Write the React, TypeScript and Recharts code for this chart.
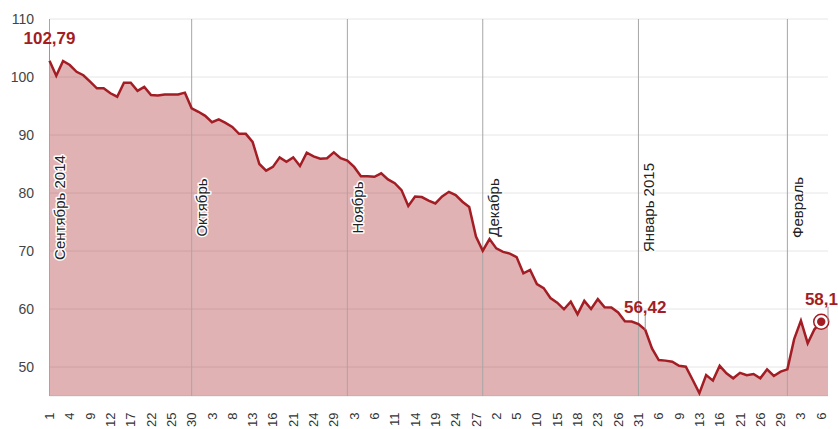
import React from 'react';
import {
  ComposedChart, Area, Line, XAxis, YAxis, CartesianGrid, ReferenceLine, ReferenceDot,
} from 'recharts';

// trading days, Sep 2014 - Feb 2015
const days = [
  '1', '2', '3', '4', '5', '8', '9', '10', '11', '12', '15', '16', '17', '18', '19', '22', '23', '24', '25', '26', '29', '30',
  '1', '2', '3', '6', '7', '8', '9', '10', '13', '14', '15', '16', '17', '20', '21', '22', '23', '24', '27', '28', '29', '30', '31',
  '3', '4', '5', '6', '7', '10', '11', '12', '13', '14', '17', '18', '19', '20', '21', '24', '25', '26', '27', '28',
  '1', '2', '3', '4', '5', '8', '9', '10', '11', '12', '15', '16', '17', '18', '19', '22', '23', '24', '25', '26', '29', '30', '31',
  '2', '5', '6', '7', '8', '9', '10', '12', '13', '14', '15', '16', '19', '20', '21', '22', '23', '26', '27', '28', '29', '30',
  '2', '3', '4', '5', '6',
];

const prices = [
  102.79, 100.2, 102.76, 102.07, 100.9, 100.3, 99.2, 98.05, 98.05, 97.2, 96.6, 99.0, 99.0, 97.6, 98.3, 96.9, 96.8, 97.0, 97.0, 97.0, 97.3, 94.6,
  94.0, 93.3, 92.2, 92.7, 92.1, 91.4, 90.2, 90.2, 88.8, 85.0, 83.85, 84.5, 86.15, 85.4, 86.15, 84.65, 86.95, 86.3, 85.9, 86.0, 87.0, 86.0, 85.6,
  84.5, 82.9, 82.9, 82.8, 83.4, 82.35, 81.7, 80.5, 77.75, 79.4, 79.3, 78.7, 78.2, 79.4, 80.2, 79.65, 78.5, 77.6, 72.5, 70.05,
  72.05, 70.45, 69.85, 69.55, 68.95, 66.15, 66.75, 64.3, 63.6, 61.9, 61.1, 59.95, 61.25, 59.1, 61.4, 60.0, 61.7, 60.3, 60.25, 59.4, 57.9, 57.85, 57.4,
  56.42, 53.2, 51.2, 51.1, 50.9, 50.2, 50.05, 47.8, 45.5, 48.6, 47.65, 50.2, 48.9, 48.05, 49.0, 48.6, 48.8, 48.05, 49.6, 48.45, 49.2, 49.6,
  54.8, 58.0, 54.1, 56.5, 57.8,
];

const yTicks = [50, 60, 70, 80, 90, 100, 110];

// month separators: index of the last trading day of the previous month
const monthLines = [
  { at: 0, name: 'Сентябрь 2014' },
  { at: 21, name: 'Октябрь' },
  { at: 44, name: 'Ноябрь' },
  { at: 64, name: 'Декабрь' },
  { at: 87, name: 'Январь 2015' },
  { at: 109, name: 'Февраль' },
];

const callouts = [
  { at: 0, text: '102,79' },
  { at: 88, text: '56,42' },
  { at: 115, text: '58,1' },
];

const RED = '#a31d24';
const FONT = '"Liberation Sans", Arial, sans-serif';

const lastIdx = prices.length - 1;
const data = prices.map((p, i) => ({ i, day: days[i], price: p, area: p }));
data.push({ i: prices.length, day: '', price: null, area: prices[lastIdx] });

const xTicks = prices.map((_, i) => i).filter((i) => i % 3 === 0);

const XTick = (props: any) => {
  const { x, y, payload } = props;
  return (
    <text
      transform={`translate(${x},${y}) rotate(-90)`}
      textAnchor="end"
      dy="0.35em"
      fontSize={13}
      fontFamily={FONT}
      fill="#333"
    >
      {days[payload.value]}
    </text>
  );
};

const monthLabel = (name: string) => (props: any) => {
  const vb = props.viewBox || {};
  const cx = vb.x + 10.5;
  const cy = vb.y + vb.height / 2;
  return (
    <text
      transform={`translate(${cx},${cy}) rotate(-90)`}
      textAnchor="middle"
      dy="0.35em"
      fontSize={15}
      fontFamily={FONT}
      fill="#222"
      stroke="#fff"
      strokeWidth={3}
      strokeLinejoin="round"
      paintOrder="stroke"
    >
      {name}
    </text>
  );
};

const calloutShape = (text: string, isLast: boolean) => (props: any) => {
  const { cx, cy } = props;
  return (
    <g>
      <line x1={cx} x2={cx} y1={cy - 15} y2={cy} stroke="#999" strokeWidth={1} />
      <text
        x={isLast ? cx + 10 : cx}
        y={cy - 17}
        textAnchor={isLast ? 'end' : 'middle'}
        fontSize={17}
        fontWeight="bold"
        fontFamily={FONT}
        fill={RED}
      >
        {text}
      </text>
    </g>
  );
};

const EndDot = (props: any) => {
  const { cx, cy, index } = props;
  if (index !== lastIdx || cx == null || cy == null) return <g key={`d-${index}`} />;
  return (
    <g key={`d-${index}`}>
      <circle cx={cx} cy={cy} r={7.5} fill="#fff" stroke={RED} strokeWidth={1.5} />
      <circle cx={cx} cy={cy} r={4.2} fill={RED} />
    </g>
  );
};

export default function App() {
  return (
    <div style={{ position: 'absolute', left: 0, top: 0, width: 838, height: 429, background: '#fff' }}>
      <ComposedChart width={838} height={429} data={data} margin={{ top: 19, right: 10, bottom: 0, left: 0 }}>
        <CartesianGrid vertical={false} stroke="#e6e6e6" />
        <XAxis
          type="number"
          dataKey="i"
          domain={[0, prices.length]}
          ticks={xTicks}
          interval={0}
          height={33}
          axisLine={false}
          tickLine={false}
          tickSize={0}
          tickMargin={16.5}
          tick={<XTick />}
        />
        <YAxis
          domain={[45, 110]}
          ticks={yTicks}
          width={49.5}
          axisLine={false}
          tickLine={false}
          tickSize={0}
          tickMargin={15.5}
          tick={{ fontSize: 14, fill: '#444', fontFamily: FONT }}
        />
        <Area
          type="linear"
          dataKey="area"
          stroke="none"
          fill={RED}
          fillOpacity={0.34}
          isAnimationActive={false}
        />
        {monthLines.map((m) => (
          <ReferenceLine
            key={m.name}
            x={m.at}
            stroke="#a6a6a6"
            strokeWidth={1}
            label={monthLabel(m.name)}
          />
        ))}
        <Line
          type="linear"
          dataKey="price"
          stroke={RED}
          strokeWidth={2.5}
          dot={<EndDot />}
          activeDot={false}
          connectNulls={false}
          isAnimationActive={false}
        />
        {callouts.map((c) => (
          <ReferenceDot
            key={c.text}
            x={c.at}
            y={data[c.at].area}
            r={0}
            ifOverflow="visible"
            shape={calloutShape(c.text, c.at === prices.length)}
          />
        ))}
      </ComposedChart>
    </div>
  );
}
